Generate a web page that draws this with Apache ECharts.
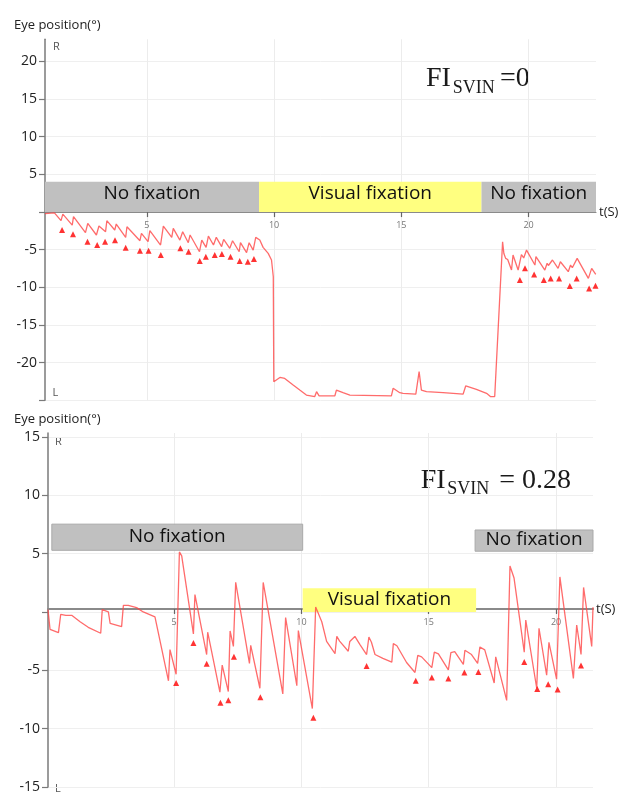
<!DOCTYPE html>
<html><head><meta charset="utf-8">
<script src="https://cdn.jsdelivr.net/npm/echarts@6/dist/echarts.min.js"></script>
<style>html,body{margin:0;padding:0;background:#fff}#c{width:622px;height:794px}</style>
</head><body><div id="c"></div>
<script>
// ---------- DATA ----------
// Top panel (FI_SVIN = 0): eye position trace [t (s), position (deg)]
const topTrace = [
  [1.00,-0.20],[1.05,-0.05],[1.37,-0.10],[1.63,-1.15],[1.70,-0.27],[2.07,-1.73],[2.12,-0.62],
  [2.59,-2.74],[2.68,-1.50],[3.02,-3.05],[3.12,-1.86],[3.38,-2.61],[3.43,-1.15],[3.74,-2.39],
  [3.80,-1.59],[4.17,-3.36],[4.22,-1.95],[4.73,-3.81],[4.79,-2.83],[5.05,-3.94],[5.12,-2.48],
  [5.54,-4.38],[5.65,-1.86],[5.98,-3.36],[6.04,-2.17],[6.30,-3.72],[6.41,-2.61],[6.63,-4.07],
  [6.70,-3.05],[7.07,-5.27],[7.16,-3.72],[7.33,-4.69],[7.42,-3.19],[7.62,-4.38],[7.73,-3.36],
  [7.94,-4.60],[8.02,-3.63],[8.26,-4.82],[8.37,-3.81],[8.63,-5.27],[8.68,-4.07],[8.92,-5.40],
  [9.02,-4.07],[9.18,-5.05],[9.28,-3.36],[9.44,-3.72],[9.57,-4.69],[9.77,-5.49],[9.90,-6.37],
  [9.97,-8.59],[9.99,-22.53],[10.23,-21.96],[10.42,-22.10],[10.75,-22.97],[11.01,-23.64],
  [11.27,-24.30],[11.60,-24.50],[11.67,-23.86],[11.77,-24.40],[12.39,-24.40],[12.45,-23.64],
  [12.71,-23.99],[12.98,-24.30],[14.61,-24.40],[14.68,-23.40],[14.94,-23.99],[15.07,-24.08],
  [15.57,-24.17],[15.70,-21.20],[15.79,-23.64],[15.99,-23.86],[16.64,-23.99],[17.04,-24.08],
  [17.43,-24.17],[17.53,-23.10],[17.95,-23.55],[18.35,-24.08],[18.50,-24.50],[18.67,-24.50],
  [18.98,-3.94],[19.03,-5.50],[19.10,-6.15],[19.18,-6.30],[19.33,-7.70],[19.39,-5.70],
  [19.59,-7.70],[19.72,-5.66],[19.81,-6.10],[19.92,-5.05],[20.25,-7.04],[20.29,-5.93],
  [20.64,-7.70],[20.73,-6.80],[20.78,-7.10],[20.94,-6.37],[21.16,-7.48],[21.25,-6.60],
  [21.56,-7.92],[21.65,-7.04],[21.72,-7.40],[21.91,-6.15],[22.35,-8.81],[22.48,-7.48],[22.64,-8.28]
];
// Top panel: slow-phase end markers (triangles)
const topMarks = [
  [1.67,-2.39],[2.10,-2.96],[2.67,-3.94],[3.05,-4.38],[3.36,-3.94],[3.75,-3.76],[4.17,-4.74],
  [4.73,-5.14],[5.07,-5.14],[5.55,-5.71],[6.32,-4.82],[6.64,-5.27],[7.08,-6.51],[7.32,-5.94],
  [7.67,-5.71],[7.95,-5.58],[8.29,-5.94],[8.65,-6.51],[8.97,-6.60],[9.21,-6.24],
  [19.66,-9.03],[19.86,-7.48],[20.22,-8.28],[20.60,-9.03],[20.87,-8.81],[21.20,-8.81],
  [21.62,-9.83],[21.89,-8.81],[22.38,-10.14],[22.63,-9.79]
];
// Bottom panel (FI_SVIN = 0.28)
const bottomTrace = [
  [0.05,0.20],[0.13,-1.49],[0.46,-1.77],[0.55,-0.20],[0.75,-0.30],[0.98,-0.29],[1.04,-0.39],
  [1.31,-0.84],[1.63,-1.32],[2.12,-1.83],[2.18,0.20],[2.42,0.00],[2.49,-0.98],[2.94,-1.26],
  [3.01,0.56],[3.20,0.56],[3.53,0.37],[3.79,0.00],[4.25,-0.42],[4.78,-5.90],[4.84,-3.23],
  [5.08,-5.34],[5.21,5.14],[5.30,4.80],[5.76,-1.88],[5.82,1.49],[6.28,-3.65],[6.32,-1.74],
  [6.80,-6.88],[6.89,-4.55],[7.13,-6.82],[7.20,-1.63],[7.33,-2.95],[7.42,2.53],[7.96,-4.41],
  [8.01,-2.86],[8.37,-6.54],[8.50,2.53],[9.27,-7.02],[9.38,-0.48],[9.82,-6.32],[9.88,-1.60],
  [10.43,-8.28],[10.56,0.42],[10.62,0.35],[10.80,-0.84],[10.99,-2.53],[11.32,-3.57],[11.39,-2.10],
  [11.50,-2.50],[11.84,-3.37],[11.90,-2.53],[12.10,-2.10],[12.30,-2.80],[12.56,-3.65],[12.65,-2.15],
  [12.75,-2.60],[12.89,-3.65],[12.95,-3.50],[13.20,-3.98],[13.55,-4.30],[13.61,-2.72],[13.75,-2.90],
  [14.13,-4.33],[14.46,-5.19],[14.57,-3.73],[14.72,-3.85],[15.12,-4.77],[15.22,-3.45],[15.38,-3.60],
  [15.77,-4.97],[15.87,-3.48],[16.02,-3.40],[16.36,-4.49],[16.42,-3.29],[16.68,-3.65],[16.92,-4.41],
  [17.01,-3.00],[17.20,-3.25],[17.57,-6.09],[17.63,-3.85],[18.06,-7.58],[18.19,3.93],[18.35,2.90],
  [18.75,-3.45],[18.81,-0.70],[19.24,-6.54],[19.33,-1.40],[19.63,-5.42],[19.72,-2.61],[20.02,-5.76],
  [20.15,3.00],[20.68,-5.70],[20.81,-1.12],[20.98,-3.65],[21.08,2.10],[21.40,-2.95],[21.45,0.40]
];
const bottomMarks = [
  [5.08,-6.09],[5.76,-2.67],[6.28,-4.44],[6.82,-7.78],[7.13,-7.56],[7.35,-3.85],[8.39,-7.30],
  [10.47,-9.07],[12.56,-4.63],[14.49,-5.90],[15.12,-5.62],[15.77,-5.70],[16.40,-5.20],[16.95,-5.14],
  [18.75,-4.30],[19.26,-6.60],[19.69,-6.20],[20.06,-6.65],[20.98,-4.58]
];
// Phase boxes
const topPhaseNames = ['No fixation','Visual fixation','No fixation'];
const topPhaseStart = [1.00, 9.41, 18.15];
const topPhaseEnd   = [9.41, 18.15, 22.65];
const topPhaseLow   = [0, 0, 0];
const topPhaseHigh  = [4.02, 4.02, 4.02];
const bottomPhaseNames = ['No fixation','Visual fixation','No fixation'];
const bottomPhaseStart = [0.20, 10.05, 16.82];
const bottomPhaseEnd   = [10.05, 16.86, 21.45];
const bottomPhaseLow   = [5.28, 0, 5.20];
const bottomPhaseHigh  = [7.52, 2.02, 7.02];
// Axis ranges and tick values
const topX = [1.0, 22.65], topY = [-25, 22.94];
const bottomX = [0.05, 21.45], bottomY = [-15, 15.33];
const xTickValues = [5, 10, 15, 20];
const topYTicks = [-25, -20, -15, -10, -5, 0, 5, 10, 15, 20];
const topYLabels = [-20, -15, -10, -5, 5, 10, 15, 20];
const bottomYTicks = [-15, -10, -5, 0, 5, 10, 15];
const bottomYLabels = [-15, -10, -5, 5, 10, 15];

// ---------- CHART ----------
const chart = echarts.init(document.getElementById('c'), null, {renderer: 'canvas'});
const SANS = 'Open Sans';
const GRAY = '#c0c0c0', YELLOW = '#ffff80';
const grids = [
  {left: 45, top: 39.3, width: 551, height: 361},
  {left: 48, top: 433, width: 545, height: 360}
];

function phaseAreas(names, s, e, lo, hi, dy, border) {
  return names.map((n, i) => [
    {name: n, xAxis: s[i], yAxis: hi[i],
     itemStyle: {color: n === 'Visual fixation' ? YELLOW : GRAY,
                 borderColor: (border && n !== 'Visual fixation') ? '#a9a9a9' : 'transparent', borderWidth: border ? 1 : 0},
     label: {offset: [0, dy]}},
    {xAxis: e[i], yAxis: lo[i]}
  ]);
}

// x axis is drawn at y = 0 by shifting it up from the grid bottom (pixel shift from the y scale)
function xAxisCfg(gi, xr, yr) {
  const h = grids[gi].height;
  const zeroFromBottom = h * (0 - yr[0]) / (yr[1] - yr[0]);
  return {
    type: 'value', gridIndex: gi, min: xr[0], max: xr[1], position: 'bottom',
    offset: -zeroFromBottom,
    axisLine: {onZero: false, lineStyle: {color: '#8a8a8a', width: gi ? 2 : 1.2}},
    axisTick: {show: true, customValues: xTickValues, length: 5, lineStyle: {color: '#666', width: 1.2}},
    axisLabel: {customValues: xTickValues, fontSize: 9, color: '#777', fontFamily: SANS, margin: 9},
    splitLine: {show: true, lineStyle: {color: '#ececec', width: 1}},
    name: 't(S)', nameLocation: 'end', nameGap: 3,
    nameTextStyle: {fontSize: 13, color: '#222', fontFamily: SANS, padding: [0, 0, 2, 0]}
  };
}
function yAxisCfg(gi, yr, ticks, labels) {
  return {
    type: 'value', gridIndex: gi, min: yr[0], max: yr[1],
    axisLine: {show: true, onZero: false, lineStyle: {color: '#7a7a7a', width: 1.5}},
    axisTick: {show: true, customValues: ticks, length: 6, lineStyle: {color: '#7a7a7a', width: 1.2}},
    axisLabel: {customValues: labels, fontSize: 14, color: '#222', fontFamily: SANS, margin: 8},
    splitLine: {show: true, lineStyle: {color: '#efefef', width: 1}}
  };
}

const lineStyle = {color: 'rgba(255,70,70,0.8)', width: 1.3};
const areaLabel = {show: true, position: 'inside', fontSize: 19, fontFamily: SANS, color: '#111'};
const option = {
  animation: false,
  backgroundColor: '#fff',
  grid: grids.map(g => Object.assign({containLabel: false}, g)),
  xAxis: [xAxisCfg(0, topX, topY), xAxisCfg(1, bottomX, bottomY)],
  yAxis: [yAxisCfg(0, topY, topYTicks, topYLabels), yAxisCfg(1, bottomY, bottomYTicks, bottomYLabels)],
  series: [
    {type: 'line', xAxisIndex: 0, yAxisIndex: 0, data: [], silent: true,
     markArea: {silent: true, z: 1, label: areaLabel,
                data: phaseAreas(topPhaseNames, topPhaseStart, topPhaseEnd, topPhaseLow, topPhaseHigh, -3, false)}},
    {type: 'line', xAxisIndex: 1, yAxisIndex: 1, data: [], silent: true,
     markArea: {silent: true, z: 1, label: areaLabel,
                data: phaseAreas(bottomPhaseNames, bottomPhaseStart, bottomPhaseEnd, bottomPhaseLow, bottomPhaseHigh, -1, true)}},
    {type: 'line', xAxisIndex: 0, yAxisIndex: 0, data: topTrace, showSymbol: false, lineStyle: lineStyle, z: 3},
    {type: 'line', xAxisIndex: 1, yAxisIndex: 1, data: bottomTrace, showSymbol: false, lineStyle: lineStyle, z: 3},
    {type: 'scatter', xAxisIndex: 0, yAxisIndex: 0, data: topMarks, symbol: 'triangle', symbolSize: [6, 6],
     itemStyle: {color: '#ff0000'}, z: 4},
    {type: 'scatter', xAxisIndex: 1, yAxisIndex: 1, data: bottomMarks, symbol: 'triangle', symbolSize: [6, 6],
     itemStyle: {color: '#ff0000'}, z: 4}
  ],
  graphic: [
    {type: 'text', x: 14, y: 25.5, style: {text: 'Eye position(°)', fontSize: 13, fontFamily: SANS, fill: '#222', verticalAlign: 'middle'}},
    {type: 'text', x: 14, y: 419, style: {text: 'Eye position(°)', fontSize: 13, fontFamily: SANS, fill: '#222', verticalAlign: 'middle'}},
    {type: 'text', x: 53, y: 46.5, style: {text: 'R', fontSize: 11, fontFamily: SANS, fill: '#555', verticalAlign: 'middle'}},
    {type: 'text', x: 52.5, y: 393, style: {text: 'L', fontSize: 11, fontFamily: SANS, fill: '#555', verticalAlign: 'middle'}},
    {type: 'text', x: 55, y: 442, style: {text: 'R', fontSize: 11, fontFamily: SANS, fill: '#555', verticalAlign: 'middle'}},
    {type: 'text', x: 55, y: 789, style: {text: 'L', fontSize: 11, fontFamily: SANS, fill: '#555', verticalAlign: 'middle'}},
    {type: 'text', x: 426, y: 78.9, style: {text: 'FI', fontSize: 28, fontFamily: 'Liberation Serif', fill: '#1a1a1a', verticalAlign: 'middle'}},
    {type: 'text', x: 452.7, y: 87.9, style: {text: 'SVIN', fontSize: 18, fontFamily: 'Liberation Serif', fill: '#1a1a1a', verticalAlign: 'middle'}},
    {type: 'text', x: 500, y: 78.9, style: {text: '=0', fontSize: 28, fontFamily: 'Liberation Serif', fill: '#1a1a1a', verticalAlign: 'middle'}},
    {type: 'text', x: 420.7, y: 480.5, style: {text: 'FI', fontSize: 28, fontFamily: 'Liberation Serif', fill: '#1a1a1a', verticalAlign: 'middle'}},
    {type: 'text', x: 447.3, y: 489.6, style: {text: 'SVIN', fontSize: 18, fontFamily: 'Liberation Serif', fill: '#1a1a1a', verticalAlign: 'middle'}},
    {type: 'text', x: 499.3, y: 480.5, style: {text: '= 0.28', fontSize: 28, fontFamily: 'Liberation Serif', fill: '#1a1a1a', verticalAlign: 'middle'}}
  ]
};
chart.setOption(option);
</script>
</body></html>
